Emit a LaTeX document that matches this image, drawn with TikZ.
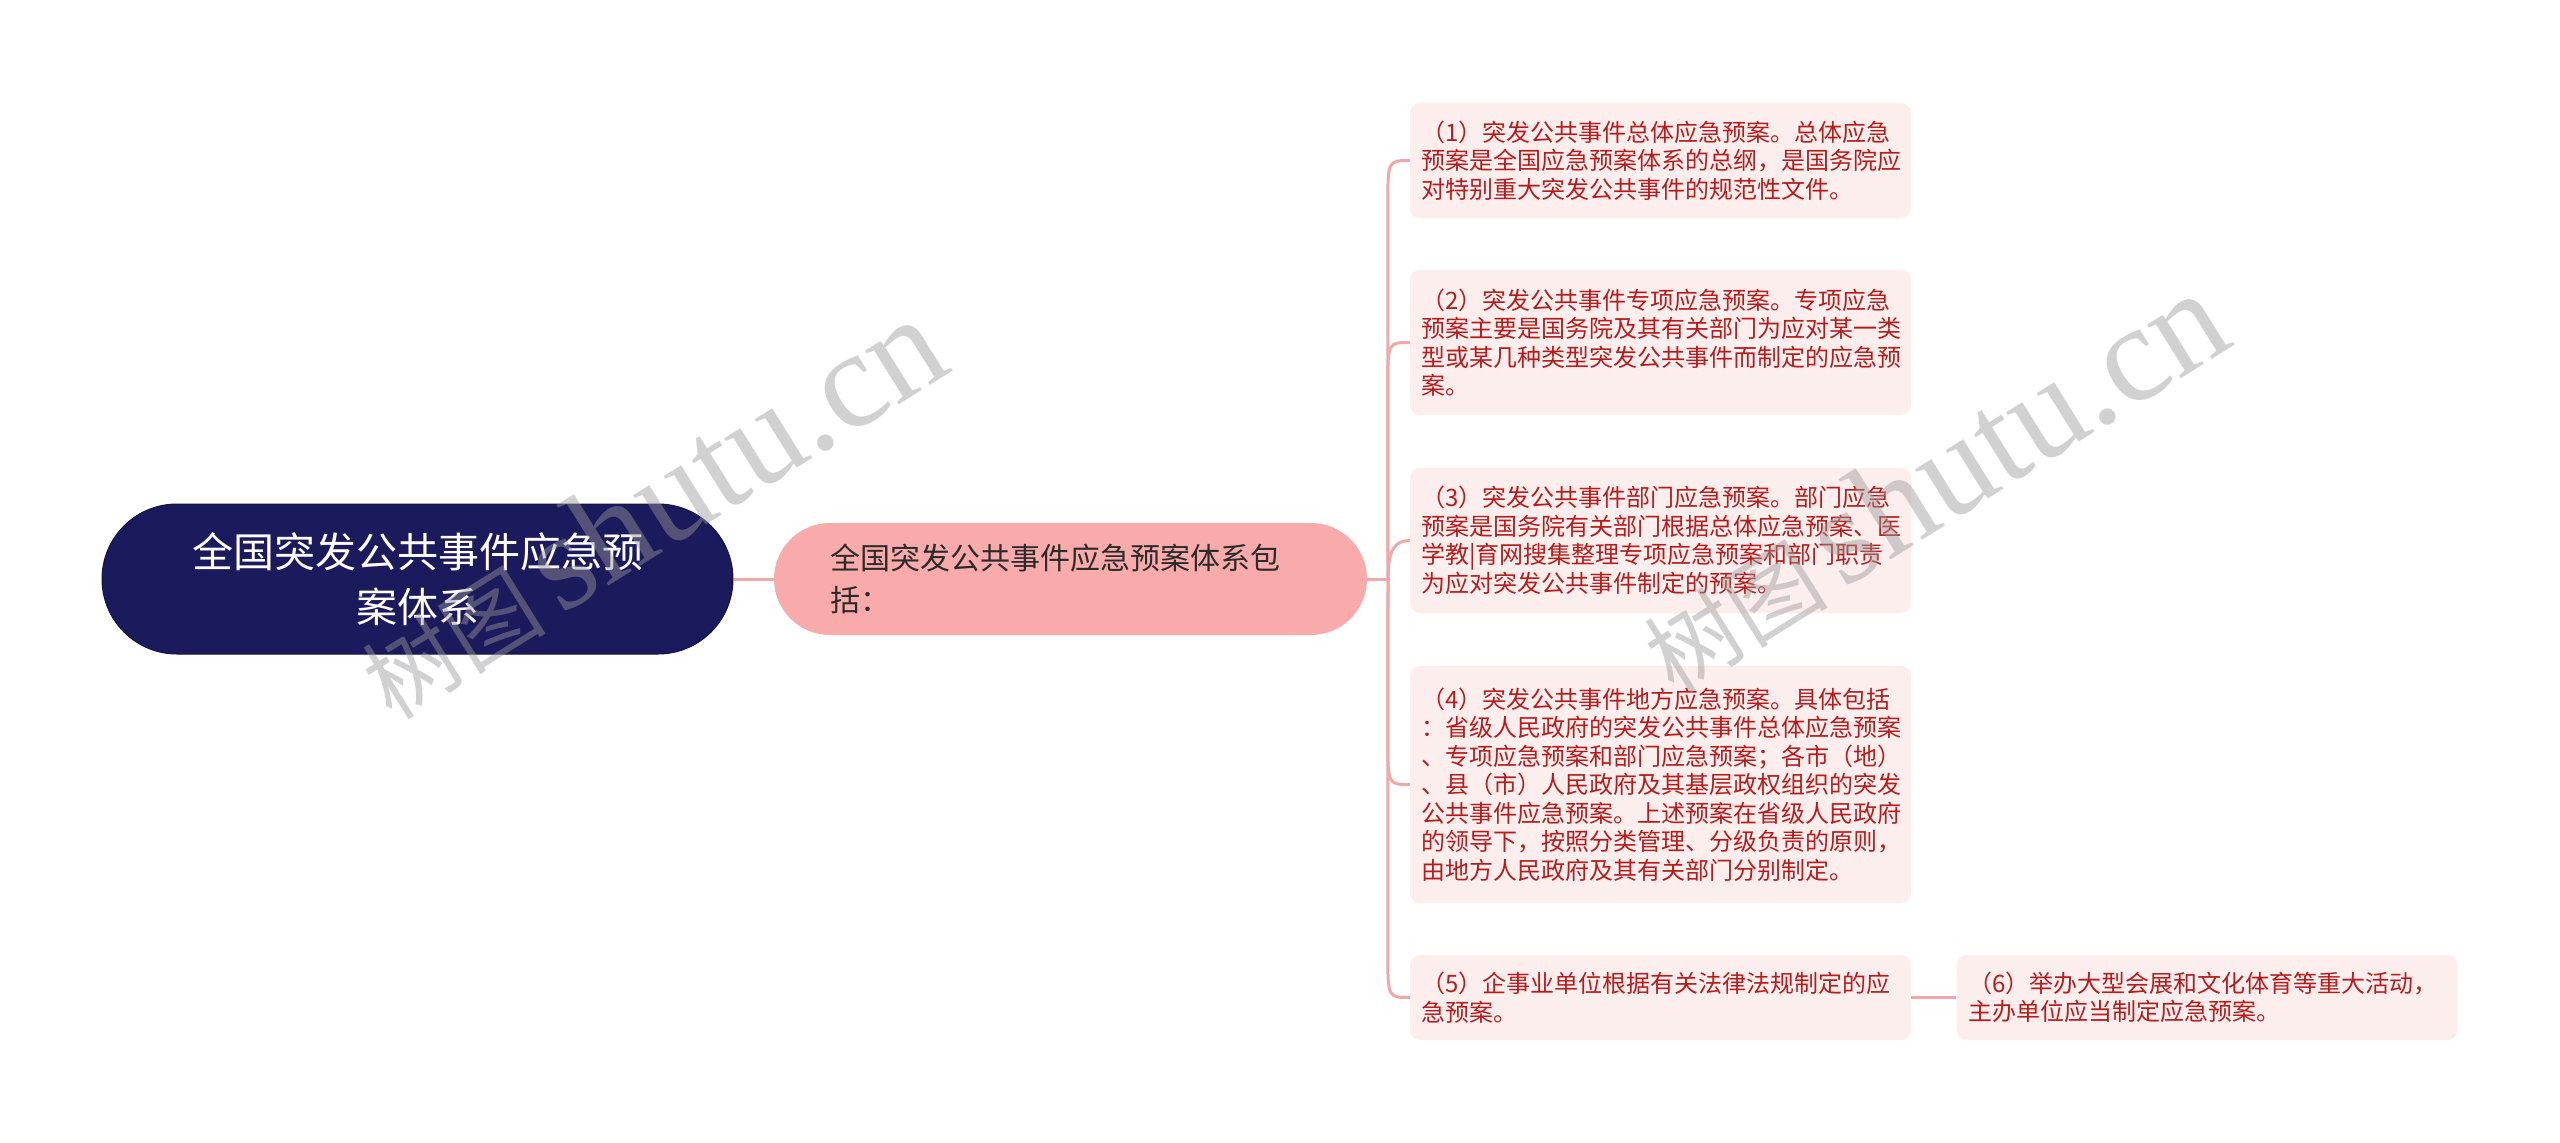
\documentclass[tikz,border=0pt]{standalone}
\usepackage{fontspec}
\setmainfont{Noto Sans CJK SC}
\newfontfamily\wmserif{Liberation Serif}
\usetikzlibrary{calc}
\definecolor{rootfill}{HTML}{1B1A5C}
\definecolor{rootline}{HTML}{141448}
\definecolor{midfill}{HTML}{F9ABAB}
\definecolor{midtext}{HTML}{2B2B2B}
\definecolor{leaffill}{HTML}{FDEEEE}
\definecolor{leaftext}{HTML}{B71C1C}
\definecolor{linkc}{HTML}{F0A8A8}
\definecolor{wmgray}{HTML}{9A9A9A}
\begin{document}
\begin{tikzpicture}[x=1pt,y=-1pt,
  rootbox/.style={draw=rootline, line width=1pt, fill=rootfill, text=white, rounded corners=75pt,
    font=\fontsize{41}{55}\selectfont, align=center, text width=470pt, inner sep=0pt,
    minimum width=631pt, minimum height=150pt},
  midbox/.style={fill=midfill, text=midtext, rounded corners=56pt,
    font=\fontsize{30}{42}\selectfont, align=left, text width=480pt, inner xsep=56.5pt, inner ysep=0pt,
    minimum width=593pt, minimum height=112pt},
  leaf/.style={fill=leaffill, text=leaftext, rounded corners=10pt,
    font=\fontsize{24}{28.5}\selectfont, align=left, text width=478pt, inner xsep=11.5pt, inner ysep=0pt,
    minimum width=501pt},
  link/.style={draw=linkc, line width=3pt},
  wmark/.style={text=wmgray, opacity=0.45, rotate=32, inner sep=0pt},
]
\useasboundingbox[fill=white] (0,0) rectangle (2560,1143);

\node[rootbox] (root) at (417.5,579) {全国突发公共事件应急预\\案体系};
\node[midbox] (mid) at (1070.5,579) {全国突发公共事件应急预案体系包\\括：};

\node[leaf, minimum height=115pt] (l1) at (1660.5,160.5) {（1）突发公共事件总体应急预案。总体应急\\预案是全国应急预案体系的总纲，是国务院应\\对特别重大突发公共事件的规范性文件。};
\node[leaf, minimum height=145pt] (l2) at (1660.5,342.5) {（2）突发公共事件专项应急预案。专项应急\\预案主要是国务院及其有关部门为应对某一类\\型或某几种类型突发公共事件而制定的应急预\\案。};
\node[leaf, minimum height=145pt] (l3) at (1660.5,540.5) {（3）突发公共事件部门应急预案。部门应急\\预案是国务院有关部门根据总体应急预案、医\\学教|育网搜集整理专项应急预案和部门职责\\为应对突发公共事件制定的预案。};
\node[leaf, minimum height=237pt] (l4) at (1660.5,784.5) {（4）突发公共事件地方应急预案。具体包括\\：省级人民政府的突发公共事件总体应急预案\\、专项应急预案和部门应急预案；各市（地）\\、县（市）人民政府及其基层政权组织的突发\\公共事件应急预案。上述预案在省级人民政府\\的领导下，按照分类管理、分级负责的原则，\\由地方人民政府及其有关部门分别制定。};
\node[leaf, minimum height=85pt] (l5) at (1660.5,997.5) {（5）企事业单位根据有关法律法规制定的应\\急预案。};
\node[leaf, minimum height=85pt, minimum width=500pt] (l6) at (2207,997.5) {（6）举办大型会展和文化体育等重大活动，\\主办单位应当制定应急预案。};

\draw[link] (root.east) -- (mid.west);
\coordinate (tr) at (1388,579);
\draw[link] (mid.east) -- (tr);
\draw[link] (tr) -- ($(l1.west)+(-22,45)$) .. controls ($(l1.west)+(-22,0)$) .. (l1.west);
\draw[link] (tr) -- ($(l2.west)+(-22,45)$) .. controls ($(l2.west)+(-22,0)$) .. (l2.west);
\draw[link] (tr) .. controls ($(l3.west)+(-22,8)$) and ($(l3.west)+(-14,0)$) .. (l3.west);
\draw[link] (tr) -- ($(l4.west)+(-22,-45)$) .. controls ($(l4.west)+(-22,0)$) .. (l4.west);
\draw[link] (tr) -- ($(l5.west)+(-22,-45)$) .. controls ($(l5.west)+(-22,0)$) .. (l5.west);
\draw[link] (l5.east) -- (l6.west);

\node[wmark] (wm1) at (650,508) {\fontsize{92}{92}\selectfont 树图\,\wmserif\fontsize{138}{138}\selectfont shutu.cn};
\node[wmark] (wm2) at (1932,482) {\fontsize{92}{92}\selectfont 树图\,\wmserif\fontsize{138}{138}\selectfont shutu.cn};
\end{tikzpicture}
\end{document}
